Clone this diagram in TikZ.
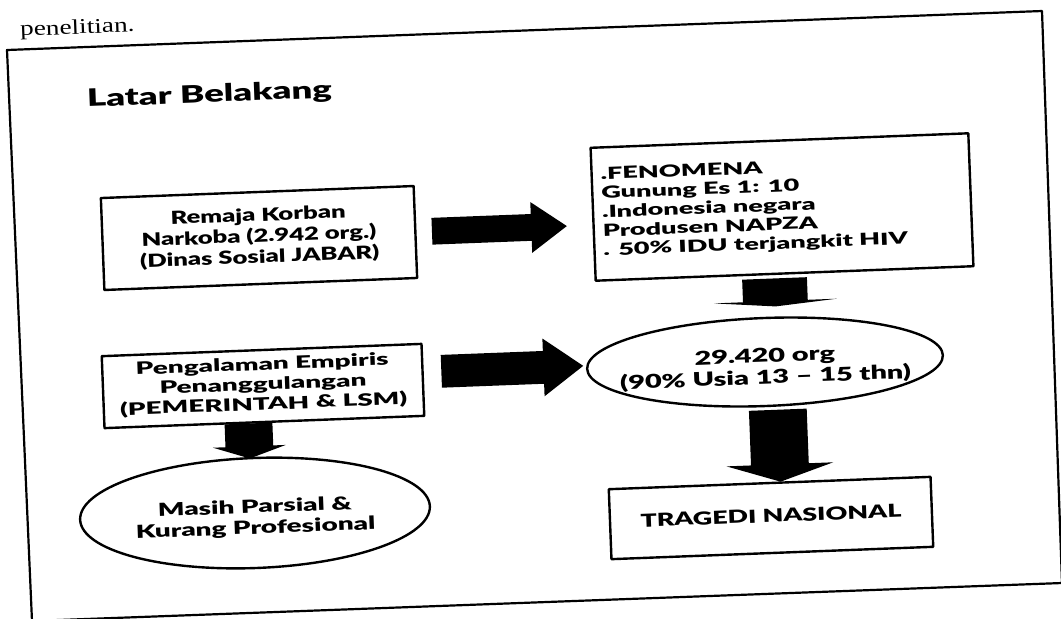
\documentclass[tikz,border=0pt]{standalone}
\usepackage{fontspec}
\setmainfont{Liberation Serif}
\newfontfamily\heavy{Lato}[UprightFont=* Black]
\usepackage{graphicx}
\usetikzlibrary{shapes.geometric,shapes.arrows}
\newcommand{\ctext}[2][1.45]{\scalebox{#1}[1]{\begin{tabular}{@{}c@{}}#2\end{tabular}}}
\newcommand{\ltext}[3][1.45]{\makebox[#2][l]{\scalebox{#1}[1]{\begin{tabular}{@{}l@{}}#3\end{tabular}}}}
\newcommand{\etext}[2][1.45]{\makebox[0pt]{\smash{\raisebox{-0.6em}{\ctext[#1]{#2}}}}}
\begin{document}
\begin{tikzpicture}[x=0.5pt,y=-0.5pt,line join=round,
  box/.style={draw, line width=1.2pt, inner sep=0pt, rotate=2.2,
    font=\heavy\fontsize{9}{10.5}\selectfont},
  ell/.style={ellipse, draw, line width=1.2pt, inner sep=0pt, rotate=2.2,
    font=\heavy\fontsize{9.5}{10.8}\selectfont},
  blockarrow/.style={single arrow, fill=black, draw=none, inner xsep=0pt,
    minimum width=0pt}]
\useasboundingbox (0,0) rectangle (1061,618);
% frame
\coordinate (f1) at (7,50);
\coordinate (f2) at (1042,11);
\coordinate (f3) at (1062,583);
\coordinate (f4) at (32,621);
\draw[line width=1.1pt] (f1) -- (f2) -- (f3) -- (f4) -- cycle;
% texts
\node[anchor=base west, inner sep=0pt, rotate=2.2, font=\fontsize{10.5}{12}\selectfont] (pen) at (20,36) {\scalebox{1.3}[1]{penelitian.}};
\node[anchor=base west, inner sep=0pt, rotate=2.2, font=\heavy\fontsize{12}{14}\selectfont] (title) at (87,107) {\scalebox{1.52}[1]{Latar Belakang}};
% boxes
\node[box, minimum width=156.5pt, minimum height=46pt] (remaja) at (259,238)
  {\ctext[1.42]{Remaja Korban\\Narkoba (2.942 org.)\\(Dinas Sosial JABAR)}};
\node[box, minimum width=189pt, minimum height=66.5pt, font=\heavy\fontsize{8.3}{9.5}\selectfont] (fen) at (782,207)
  {\ltext[1.63]{180pt}{.FENOMENA\\Gunung Es 1: 10\\.Indonesia negara\\Produsen NAPZA\\. 50\% IDU terjangkit HIV}};
\node[box, minimum width=160pt, minimum height=36pt, font=\heavy\fontsize{8.5}{10}\selectfont] (peng) at (263,386)
  {\ctext[1.64]{Pengalaman Empiris\\Penanggulangan\\(PEMERINTAH \& LSM)}};
\node[box, minimum width=161pt, minimum height=35pt] (trag) at (771,518)
  {\ctext[1.49]{TRAGEDI NASIONAL}};
% ellipses
\node[ell, minimum width=178pt, minimum height=44pt] (pop) at (765,362)
  {\etext[1.52]{29.420 org\\(90\% Usia 13 – 15 thn)}};
\node[ell, minimum width=175pt, minimum height=55pt, font=\heavy\fontsize{9}{10.5}\selectfont] (masih) at (255,513)
  {\etext[1.55]{Masih Parsial \&\\Kurang Profesional}};
% block arrows
\node[blockarrow, inner ysep=6.5pt, minimum height=67.5pt, single arrow head extend=6pt,
  single arrow tip angle=71, rotate=2.2] (a1) at (490,229) {};
\node[blockarrow, inner ysep=8pt, minimum height=71pt, single arrow head extend=6.25pt,
  single arrow tip angle=72, rotate=2.2] (a2) at (501,369) {};
\node[blockarrow, inner ysep=11.75pt, minimum height=17.5pt, single arrow head extend=6.25pt,
  single arrow tip angle=143, rotate=-87.8] (a3) at (249,437) {};
\node[blockarrow, inner ysep=16pt, minimum height=14pt, single arrow head extend=14.5pt,
  single arrow tip angle=170, rotate=-87.8] (a4) at (775,291) {};
\node[blockarrow, inner ysep=14.25pt, minimum height=36pt, single arrow head extend=12.25pt,
  single arrow tip angle=144, rotate=-87.8] (a5) at (779,441) {};
\end{tikzpicture}
\end{document}
